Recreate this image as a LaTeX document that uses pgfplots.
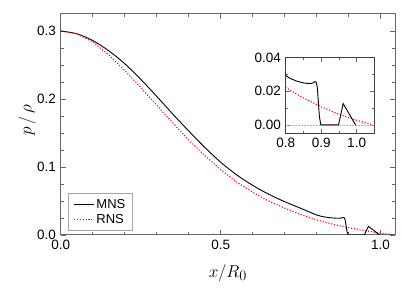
\documentclass[border=0pt]{standalone}
\usepackage{fontspec}
\setmainfont{Liberation Sans}
\usepackage{pgfplots}
\usepackage{pgfplotstable}
\pgfplotsset{compat=1.18}
\definecolor{framegray}{gray}{0.4}
\definecolor{redline}{rgb}{1,0,0}

\pgfplotstableread{
x y
0 0.300
0.05 0.296
0.1 0.286
0.15 0.271
0.2 0.252
0.25 0.229
0.3 0.204
0.35 0.178
0.4 0.153
0.45 0.129
0.5 0.107
0.55 0.0885
0.6 0.073
0.65 0.060
0.7 0.049
0.75 0.0393
0.8 0.0295
0.82 0.0270
0.84 0.0255
0.86 0.0247
0.875 0.0248
0.882 0.0258
}\mnsA

\pgfplotstableread{
x y
0.882 0.0258
0.886 0.0254
0.889 0.0225
0.892 0.014
0.895 0.005
0.899 0.0
0.949 0.0
0.962 0.0127
0.997 0.0
}\mnsB

\pgfplotstableread{
x y
0 0.300
0.05 0.296
0.1 0.284
0.15 0.265
0.2 0.242
0.25 0.217
0.3 0.191
0.35 0.165
0.4 0.140
0.45 0.117
0.5 0.096
0.55 0.078
0.6 0.063
0.65 0.050
0.7 0.0395
0.75 0.0302
0.8 0.0222
0.85 0.0160
0.9 0.0108
0.95 0.0064
1.0 0.0028
1.04 0.0003
}\rns

\begin{document}
\begin{tikzpicture}[x=1pt,y=1pt]
\path[use as bounding box] (0,0) rectangle (420,294);
\begin{axis}[
  at={(60.7pt,59pt)}, anchor=south west,
  scale only axis, width=334.3pt, height=221pt,
  xmin=0, xmax=1.045, ymin=0, ymax=0.325,
  xtick={0,0.5,1.0},
  minor xtick={0.1,0.2,0.3,0.4,0.6,0.7,0.8,0.9},
  ytick={0,0.1,0.2,0.3},
  minor ytick={0.025,0.05,0.075,0.125,0.15,0.175,0.225,0.25,0.275},
  tick align=inside,
  major tick length=5pt, minor tick length=3pt,
  every tick/.style={framegray, line width=0.6pt},
  axis line style={framegray, line width=1pt},
  /pgf/number format/assume math mode=true,
  ticklabel style={font=\fontsize{13.5}{16}\selectfont, inner sep=1pt},
  xticklabel style={yshift=-4pt, /pgf/number format/.cd, fixed, fixed zerofill, precision=1},
  yticklabel style={xshift=-3.5pt, /pgf/number format/.cd, fixed, fixed zerofill, precision=1},
  xlabel={$x/R_0$},
  ylabel={$p\,/\,\rho$},
  xlabel style={at={(axis description cs:0.5,-0.172)}, anchor=center, font=\fontsize{19}{22}\selectfont},
  ylabel style={at={(axis description cs:-0.101,0.52)}, anchor=center, rotate=0, font=\fontsize{19}{22}\selectfont},
  legend style={at={(0.022,0.018)}, anchor=south west, draw=gray!70, line width=0.6pt,
    font=\fontsize{13}{15}\selectfont, row sep=1pt, inner xsep=5pt, inner ysep=3.5pt},
  legend cell align=left,
  legend image code/.code={\draw[#1] (0pt,0pt) -- (20pt,0pt);},
]
\addplot[black, line width=0.9pt, smooth] table {\mnsA};
\addlegendentry{MNS}
\addplot[redline, line width=1.1pt, dash pattern=on 1.1pt off 1.8pt] table {\rns};
\addlegendentry{RNS}
\addplot[black, line width=0.9pt, forget plot] table {\mnsB};
\end{axis}

\begin{axis}[
  at={(285.7pt,160.7pt)}, anchor=south west,
  scale only axis, width=88.3pt, height=75.6pt,
  xmin=0.8, xmax=1.049, ymin=-0.005, ymax=0.04,
  xtick={0.8,0.9,1.0}, minor xtick={0.85,0.95},
  ytick={0,0.02,0.04}, minor ytick={0.01,0.03},
  tick align=inside,
  major tick length=4pt, minor tick length=2.5pt,
  every tick/.style={framegray, line width=0.6pt},
  axis line style={black!75, line width=1pt},
  /pgf/number format/assume math mode=true,
  ticklabel style={font=\fontsize{13.5}{16}\selectfont, inner sep=1pt},
  xticklabel style={yshift=-4pt, /pgf/number format/.cd, fixed, fixed zerofill, precision=1},
  yticklabel style={xshift=-3.5pt, /pgf/number format/.cd, fixed, fixed zerofill, precision=2},
  scaled y ticks=false,
]
\addplot[gray!60, line width=0.5pt, densely dotted] coordinates {(0.8,0) (1.049,0)};
\addplot[redline, line width=1.1pt, dash pattern=on 1.1pt off 1.8pt] table {\rns};
\addplot[black, line width=0.9pt, smooth] table {\mnsA};
\addplot[black, line width=0.9pt] table {\mnsB};
\end{axis}
\end{tikzpicture}
\end{document}
